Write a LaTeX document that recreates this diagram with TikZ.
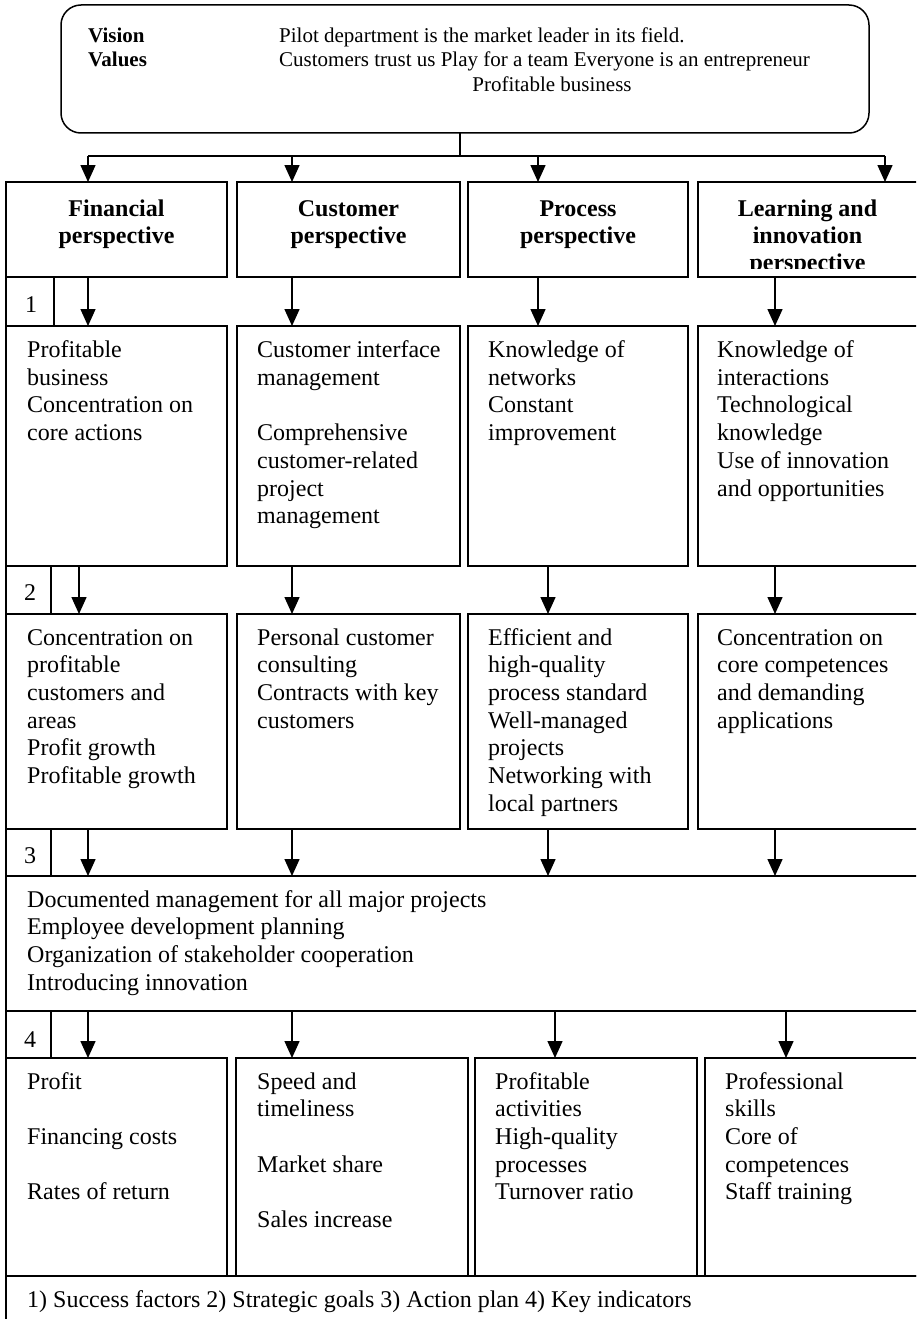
\documentclass[tikz,border=0pt]{standalone}
\usepackage{fontspec}
\setmainfont{Liberation Serif}
\usetikzlibrary{arrows.meta}
\newcommand\celltext[2][320pt]{\parbox[t]{#1}{\raggedright #2}}
\newcommand\headtext[1]{\parbox[t]{210pt}{\centering #1}}
\begin{document}
\begin{tikzpicture}[x=1pt,y=-1pt,
 bx/.style={draw,line width=1.5pt,inner sep=0pt,outer sep=0pt,anchor=north west},
 arr/.style={line width=1.5pt,-{Triangle[length=17pt,width=15pt]}},
 ln/.style={line width=1.5pt},
 txt/.style={anchor=base west,inner sep=0pt,font=\fontsize{24}{27.7}\selectfont},
 hd/.style={anchor=base,inner sep=0pt,font=\fontsize{24}{27}\selectfont\bfseries},
 tp/.style={anchor=base west,inner sep=0pt,font=\fontsize{21}{25}\selectfont},
 tpb/.style={tp,font=\fontsize{21}{25}\selectfont\bfseries},
 num/.style={anchor=base,inner sep=0pt,font=\fontsize{24}{27.7}\selectfont}]
\useasboundingbox (0,0) rectangle (916,1319);
\fill[white] (0,0) rectangle (916,1319);
\clip (0,0) rectangle (916,1319);

% top box
\node[bx,rounded corners=20pt,minimum width=808,minimum height=128] (top) at (61,5) {};
\node[tpb] (vis) at (88,43) {Vision};
\node[tpb] (val) at (88,67) {Values};
\node[tp] (pil) at (279,43) {Pilot department is the market leader in its field.};
\node[tp] (cus) at (279,67) {Customers trust us Play for a team Everyone is an entrepreneur};
\node[tp,anchor=base] (pro) at (552,92) {Profitable business};

% column coordinates
\coordinate (j) at (460,156);
\coordinate (ax1) at (88,0);
\coordinate (ax2) at (292,0);
\coordinate (ax3) at (538,0);
\coordinate (ax4) at (775,0);
\coordinate (ax5) at (885,0);
\coordinate (bx1) at (79,0);
\coordinate (bx3) at (548,0);
\coordinate (cx3) at (555,0);
\coordinate (cx4) at (786,0);

% header boxes
\node[bx,minimum width=221,minimum height=95] (h1) at (6,182) {};
\node[bx,minimum width=223,minimum height=95] (h2) at (237,182) {};
\node[bx,minimum width=220,minimum height=95] (h3) at (468,182) {};
\node[bx,minimum width=225,minimum height=95] (h4) at (698,182) {};
\node[hd] (h1t) at (116.5,216) {\headtext{Financial\\perspective}};
\node[hd] (h2t) at (348.5,216) {\headtext{Customer\\perspective}};
\node[hd] (h3t) at (578,216) {\headtext{Process\\perspective}};
\begin{scope}
\clip (698,182) rectangle (917,268.5);
\node[hd] (h4t) at (807.5,216) {\headtext{Learning and\\innovation\\perspective}};
\end{scope}

% connectors from top
\draw[ln] (top.south -| j) -- (j);
\draw[ln] (ax1 |- j) -- (ax5 |- j);
\draw[arr] (ax1 |- j) -- (h1.north -| ax1);
\draw[arr] (ax2 |- j) -- (h2.north -| ax2);
\draw[arr] (ax3 |- j) -- (h3.north -| ax3);
\draw[arr] (ax5 |- j) -- (h4.north -| ax5);

% row 1
\node[bx,minimum width=48,minimum height=49] (l1) at (6,277) {};
\node[num] (n1) at (31,312) {1};
\node[bx,minimum width=221,minimum height=240] (r1a) at (6,326) {};
\node[bx,minimum width=223,minimum height=240] (r1b) at (237,326) {};
\node[bx,minimum width=220,minimum height=240] (r1c) at (468,326) {};
\node[bx,minimum width=225,minimum height=240] (r1d) at (698,326) {};
\draw[arr] (h1.south -| ax1) -- (r1a.north -| ax1);
\draw[arr] (h2.south -| ax2) -- (r1b.north -| ax2);
\draw[arr] (h3.south -| ax3) -- (r1c.north -| ax3);
\draw[arr] (h4.south -| ax4) -- (r1d.north -| ax4);
\node[txt] (t1a) at (27,357.5) {\celltext{Profitable\\business\\Concentration on\\core actions}};
\node[txt] (t1b) at (257,357.5) {\celltext{Customer interface\\management\\[27.7pt]Comprehensive\\customer-related\\project\\management}};
\node[txt] (t1c) at (488,357.5) {\celltext{Knowledge of\\networks\\Constant\\improvement}};
\node[txt] (t1d) at (717,357.5) {\celltext{Knowledge of\\interactions\\Technological\\knowledge\\Use of innovation\\and opportunities}};

% row 2
\node[bx,minimum width=45,minimum height=48] (l2) at (6,566) {};
\node[num] (n2) at (30,600) {2};
\node[bx,minimum width=221,minimum height=215] (r2a) at (6,614) {};
\node[bx,minimum width=223,minimum height=215] (r2b) at (237,614) {};
\node[bx,minimum width=220,minimum height=215] (r2c) at (468,614) {};
\node[bx,minimum width=225,minimum height=215] (r2d) at (698,614) {};
\draw[arr] (r1a.south -| bx1) -- (r2a.north -| bx1);
\draw[arr] (r1b.south -| ax2) -- (r2b.north -| ax2);
\draw[arr] (r1c.south -| bx3) -- (r2c.north -| bx3);
\draw[arr] (r1d.south -| ax4) -- (r2d.north -| ax4);
\node[txt] (t2a) at (27,645) {\celltext{Concentration on\\profitable\\customers and\\areas\\Profit growth\\Profitable growth}};
\node[txt] (t2b) at (257,645) {\celltext{Personal customer\\consulting\\Contracts with key\\customers}};
\node[txt] (t2c) at (488,645) {\celltext{Efficient and\\high-quality\\process standard\\Well-managed\\projects\\Networking with\\local partners}};
\node[txt] (t2d) at (717,645) {\celltext{Concentration on\\core competences\\and demanding\\applications}};

% row 3
\node[bx,minimum width=45,minimum height=47] (l3) at (6,829) {};
\node[num] (n3) at (30,863) {3};
\node[bx,minimum width=917,minimum height=135] (r3) at (6,876) {};
\draw[arr] (r2a.south -| ax1) -- (r3.north -| ax1);
\draw[arr] (r2b.south -| ax2) -- (r3.north -| ax2);
\draw[arr] (r2c.south -| bx3) -- (r3.north -| bx3);
\draw[arr] (r2d.south -| ax4) -- (r3.north -| ax4);
\node[txt] (t3) at (27,907) {\celltext[860pt]{Documented management for all major projects\\Employee development planning\\Organization of stakeholder cooperation\\Introducing innovation}};

% row 4
\node[bx,minimum width=45,minimum height=47] (l4) at (6,1011) {};
\node[num] (n4) at (30,1047) {4};
\node[bx,minimum width=221,minimum height=218] (r4a) at (6,1058) {};
\node[bx,minimum width=232,minimum height=218] (r4b) at (236,1058) {};
\node[bx,minimum width=222,minimum height=218] (r4c) at (475,1058) {};
\node[bx,minimum width=218,minimum height=218] (r4d) at (705,1058) {};
\draw[arr] (r3.south -| ax1) -- (r4a.north -| ax1);
\draw[arr] (r3.south -| ax2) -- (r4b.north -| ax2);
\draw[arr] (r3.south -| cx3) -- (r4c.north -| cx3);
\draw[arr] (r3.south -| cx4) -- (r4d.north -| cx4);
\node[txt] (t4a) at (27,1089) {\celltext{Profit\\[27.7pt]Financing costs\\[27.7pt]Rates of return}};
\node[txt] (t4b) at (257,1089) {\celltext{Speed and\\timeliness\\[27.7pt]Market share\\[27.7pt]Sales increase}};
\node[txt] (t4c) at (495,1089) {\celltext{Profitable\\activities\\High-quality\\processes\\Turnover ratio}};
\node[txt] (t4d) at (725,1089) {\celltext{Professional\\skills\\Core of\\competences\\Staff training}};

% bottom
\node[bx,minimum width=917,minimum height=60] (bot) at (6,1276) {};
\node[txt] (tb) at (27,1307.5) {1) Success factors 2) Strategic goals 3) Action plan 4) Key indicators};
\end{tikzpicture}
\end{document}
